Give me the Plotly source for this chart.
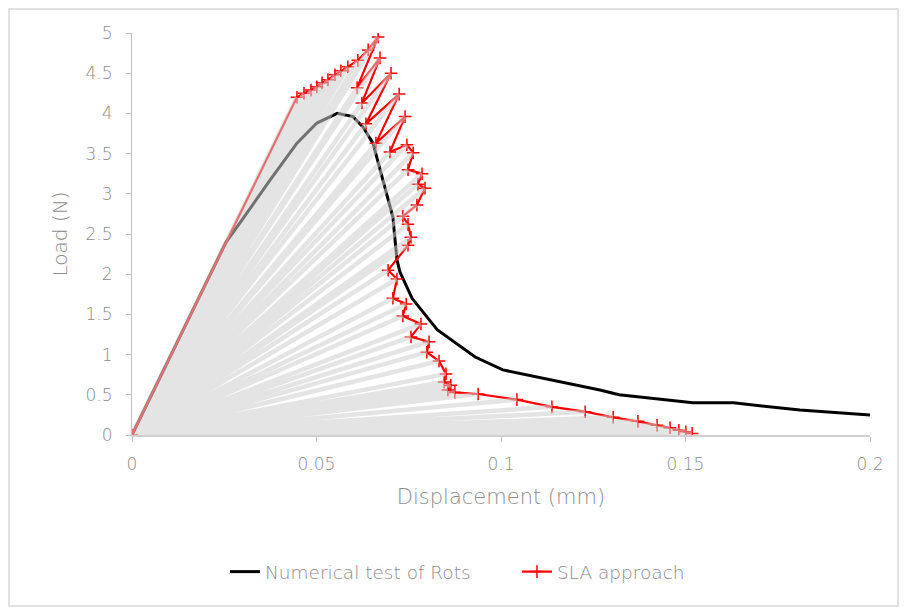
import plotly.graph_objects as go

# Numerical test of Rots (black curve)
rots_x = [0, 0.0255, 0.0293, 0.0374, 0.0447, 0.0501, 0.0556, 0.0599, 0.0626, 0.0653, 0.0680,
          0.0707, 0.0718, 0.0726, 0.0759, 0.0827, 0.0930, 0.1005, 0.1268, 0.1320,
          0.1520, 0.1630, 0.1810, 0.2000]
rots_y = [0, 2.40, 2.64, 3.17, 3.63, 3.88, 4.00, 3.96, 3.83, 3.63, 3.17,
          2.71, 2.18, 2.03, 1.70, 1.31, 0.97, 0.81, 0.56, 0.50,
          0.40, 0.40, 0.31, 0.25]

# SLA approach (red curve)
sla_x = [0, 0.0447, 0.0466, 0.0485, 0.0501, 0.0515, 0.0531, 0.0550, 0.0566, 0.0585,
         0.0612, 0.0640, 0.0667, 0.0610, 0.0672, 0.0623, 0.0702, 0.0634, 0.0724,
         0.0661, 0.0740, 0.0699, 0.0745, 0.0762, 0.0748, 0.0786, 0.0775, 0.0794,
         0.0772, 0.0734, 0.0748, 0.0756, 0.0748, 0.0694, 0.0718, 0.0707, 0.0743,
         0.0734, 0.0783, 0.0756, 0.0805, 0.0799, 0.0832, 0.0851, 0.0846, 0.0864,
         0.0856, 0.0875, 0.0938, 0.1043, 0.1138, 0.1228, 0.1304, 0.1371, 0.1423,
         0.1458, 0.1482, 0.1501, 0.1518]
sla_y = [0, 4.20, 4.25, 4.29, 4.33, 4.38, 4.42, 4.48, 4.53, 4.58,
         4.66, 4.79, 4.95, 4.32, 4.69, 4.13, 4.50, 3.87, 4.24,
         3.63, 3.96, 3.52, 3.61, 3.51, 3.30, 3.25, 3.12, 3.07,
         2.86, 2.72, 2.62, 2.46, 2.36, 2.05, 1.94, 1.70, 1.63,
         1.48, 1.38, 1.22, 1.16, 1.03, 0.92, 0.76, 0.66, 0.62,
         0.56, 0.53, 0.51, 0.44, 0.35, 0.29, 0.22, 0.17, 0.12,
         0.09, 0.06, 0.04, 0.02]

x_ticks = [0, 0.05, 0.1, 0.15, 0.2]
x_tick_text = ["0", "0.05", "0.1", "0.15", "0.2"]
y_ticks = [0, 0.5, 1, 1.5, 2, 2.5, 3, 3.5, 4, 4.5, 5]
y_tick_text = ["0", "0.5", "1", "1.5", "2", "2.5", "3", "3.5", "4", "4.5", "5"]

# secant fan: origin -> each SLA point, drawn as one continuous path
fan_x, fan_y = [], []
for xv, yv in zip(sla_x[1:], sla_y[1:]):
    fan_x += [0, xv]
    fan_y += [0, yv]
fan_x.append(0)
fan_y.append(0)

FONT = "DejaVu Sans"
GRAY = "#8c8c8c"

# page has an 8px body margin; plot area in page coords is x 132..870, y 33..435
W, H = 899, 601
L, T = 124, 25
PW, PH = 738, 402
R, B = W - L - PW, H - T - PH

fig = go.Figure()
fig.add_trace(go.Scatter(x=rots_x, y=rots_y, mode="lines", name="Numerical test of Rots",
                         line=dict(color="black", width=3), hoverinfo="skip"))
fig.add_trace(go.Scatter(x=sla_x, y=sla_y, mode="lines+markers", name="SLA approach",
                         line=dict(color="#ff0000", width=2.2),
                         marker=dict(symbol="cross-thin", size=9,
                                     line=dict(color="#ff0000", width=1.5))))
fig.add_trace(go.Scatter(x=fan_x, y=fan_y, mode="lines", showlegend=False,
                         line=dict(color="rgba(205,205,205,0.55)", width=4.5),
                         hoverinfo="skip"))

fig.update_layout(
    width=W, height=H,
    margin=dict(l=L, r=R, t=T, b=B, autoexpand=False),
    paper_bgcolor="white", plot_bgcolor="white",
    font=dict(family=FONT, color=GRAY, size=16, weight=200),
    showlegend=True,
    legend=dict(orientation="h", x=0.126, xanchor="left", y=-0.341, yanchor="middle",
                font=dict(size=18.5, color=GRAY, family=FONT, weight=200),
                entrywidth=247, entrywidthmode="pixels",
                traceorder="normal", bgcolor="rgba(0,0,0,0)"),
    xaxis=dict(range=[0, 0.2], tickvals=x_ticks, ticktext=x_tick_text,
               showgrid=False, zeroline=False, showline=True, linecolor="#d0d0d0",
               linewidth=2, ticks="outside", ticklen=5, tickcolor="#bfbfbf",
               ticklabelstandoff=8, automargin=False,
               tickfont=dict(size=17, color=GRAY, family=FONT, weight=200),
               title=dict(text="Displacement (mm)",
                          font=dict(size=21, color=GRAY, family=FONT, weight=200),
                          standoff=16)),
    yaxis=dict(range=[0, 5], tickvals=y_ticks, ticktext=y_tick_text,
               showgrid=False, zeroline=False, showline=True, linecolor="#bfbfbf",
               linewidth=1, ticks="outside", ticklen=5, tickcolor="#bfbfbf",
               ticklabelstandoff=10, automargin=False,
               tickfont=dict(size=17, color=GRAY, family=FONT, weight=200),
               title=dict(text="Load (N)",
                          font=dict(size=20, color=GRAY, family=FONT, weight=200),
                          standoff=12)),
    shapes=[dict(type="rect", xref="paper", yref="paper",
                 x0=(9 - 132) / PW, x1=(898 - 132) / PW,
                 y0=(435 - 606) / PH, y1=(435 - 9) / PH,
                 line=dict(color="#d9d9d9", width=1.5), layer="below")],
)

fig.write_html("out.html")
